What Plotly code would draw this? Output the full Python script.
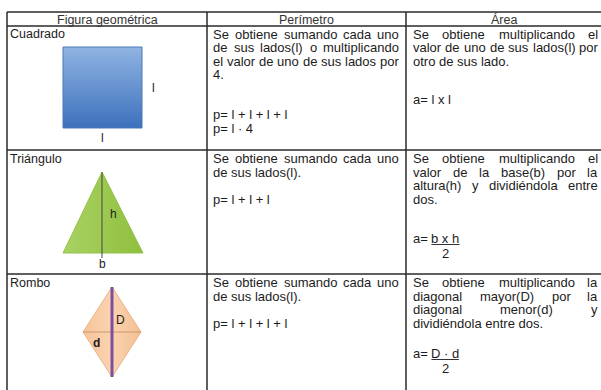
import plotly.graph_objects as go

# ---------------- data ----------------
headers = ["Figura geométrica", "Perímetro", "Área"]
figures = ["Cuadrado", "Triángulo", "Rombo"]
perimeter_text = [
    ["Se obtiene sumando cada uno", "de sus lados(l) o multiplicando",
     "el valor de uno de sus lados por", "4."],
    ["Se obtiene sumando cada uno", "de sus lados(l)."],
    ["Se obtiene sumando cada uno", "de sus lados(l)."],
]
perimeter_formulas = [["p= l + l + l + l", "p= l · 4"], ["p= l + l + l"], ["p= l + l + l + l"]]
area_text = [
    ["Se obtiene multiplicando el", "valor de uno de sus lados(l) por", "otro de sus lado."],
    ["Se obtiene multiplicando el", "valor de la base(b) por la",
     "altura(h) y dividiéndola entre", "dos."],
    ["Se obtiene multiplicando la", "diagonal mayor(D) por la",
     "diagonal menor(d) y", "dividiéndola entre dos."],
]
area_prefix = ["a= l x l", "a= ", "a= "]
area_numerator = [None, "b x h", "D · d"]
area_denominator = [None, "2", "2"]
square_labels = ["l", "l"]
triangle_labels = ["h", "b"]
rhombus_labels = ["D", "d"]

# ---------------- layout helpers ----------------
FONT = "Liberation Sans, Arial, sans-serif"
TXT = "#1c1c1c"
AFM = {' ': 278, '(': 333, ')': 333, '.': 278, ',': 278, '=': 584, '+': 584, '·': 278,
       'a': 556, 'b': 556, 'c': 500, 'd': 556, 'e': 556, 'f': 278, 'g': 556, 'h': 556,
       'i': 222, 'j': 222, 'k': 500, 'l': 222, 'm': 833, 'n': 556, 'o': 556, 'p': 556,
       'q': 556, 'r': 333, 's': 500, 't': 278, 'u': 556, 'v': 500, 'w': 722, 'x': 500,
       'y': 500, 'z': 500, 'é': 556, 'á': 556, 'A': 667, 'D': 722, 'S': 667, 'C': 722,
       'F': 611, 'R': 722, 'T': 611, 'Á': 667}


def tw(s, size):
    return sum(AFM.get(c, 556) for c in s) * size / 1000.0


anns = []
shapes = []


def txt(x, y, s, size=13, anchor="left", color=TXT):
    anns.append(dict(x=x, y=y, xref="x", yref="y", text=s, showarrow=False,
                     xanchor=anchor, yanchor="middle", borderpad=0, borderwidth=0,
                     font=dict(family=FONT, size=size, color=color)))


def para(lines, left, right, y0, dy, size=13):
    for i, line in enumerate(lines):
        y = y0 + i * dy
        words = line.split(" ")
        if i < len(lines) - 1 and len(words) > 1:
            ws = [tw(w, size) for w in words]
            gap = (right - left - sum(ws)) / (len(words) - 1)
            x = left
            for j, (w, wd) in enumerate(zip(words, ws)):
                if j == len(words) - 1:
                    txt(right, y, w, size, anchor="right")
                else:
                    txt(x, y, w, size)
                x += wd + gap
        else:
            txt(left, y, line, size)


def hline(x0, x1, y, color="#2a2a2a", width=1.5):
    shapes.append(dict(type="line", xref="x", yref="y", x0=x0, x1=x1, y0=y, y1=y,
                       line=dict(color=color, width=width)))


def vline(x, y0, y1, color="#2a2a2a", width=1.5):
    shapes.append(dict(type="line", xref="x", yref="y", x0=x, x1=x, y0=y0, y1=y1,
                       line=dict(color=color, width=width)))


# table geometry
col_x = [7, 207, 406, 602]
row_y = [12, 26, 150, 274, 392]

for y in row_y[:-1]:
    hline(col_x[0], col_x[-1], y)
for x in col_x:
    vline(x, row_y[0], row_y[-1])

# headers
for i, h in enumerate(headers):
    txt((col_x[i] + col_x[i + 1]) / 2, 19.5, h, 12.5, anchor="center", color="#333")

row_first = [34, 158.5, 282.5]
DY = 13.6
for r in range(3):
    txt(10, row_first[r], figures[r], 12.5)
    para(perimeter_text[r], 213, 399, row_first[r], DY)
    para(area_text[r], 413, 598, row_first[r], DY)

# perimeter formulas
txt(213, 114, perimeter_formulas[0][0])
txt(213, 128, perimeter_formulas[0][1])
txt(213, 199, perimeter_formulas[1][0])
txt(213, 323, perimeter_formulas[2][0])

# area formulas
txt(413, 99, area_prefix[0])
for r, (yn, yd) in [(1, (238, 253)), (2, (353, 368))]:
    txt(413, yn, area_prefix[r])
    x0 = 413 + tw(area_prefix[r], 13)
    wnum = tw(area_numerator[r], 13)
    txt(x0, yn, area_numerator[r])
    hline(x0, x0 + wnum, yn + 6.5, color="#333", width=1)
    txt(x0 + wnum / 2, yd, area_denominator[r], anchor="center")

fig = go.Figure()

# square
fig.add_trace(go.Scatter(
    x=[63, 142, 142, 63, 63], y=[47, 47, 128, 128, 47], mode="lines", fill="toself",
    line=dict(color="#4a78b8", width=1),
    fillgradient=dict(type="vertical", colorscale=[[0, "#90b4e2"], [1, "#3d71bd"]],
                      start=47, stop=128),
    hoverinfo="skip", showlegend=False))
txt(152, 88, square_labels[0], 12)
txt(102, 138, square_labels[1], 12, anchor="center")

# triangle
fig.add_trace(go.Scatter(
    x=[102, 143, 63, 102], y=[172, 253, 253, 172], mode="lines", fill="toself",
    line=dict(color="#93c24a", width=1),
    fillgradient=dict(type="horizontal", colorscale=[[0, "#a9d263"], [1, "#8fbf3e"]],
                      start=63, stop=143),
    hoverinfo="skip", showlegend=False))
vline(102, 172, 258, color="#444", width=1)
txt(110, 214, triangle_labels[0], 12)
txt(102, 264, triangle_labels[1], 12, anchor="center")

# rhombus
fig.add_trace(go.Scatter(
    x=[112, 141, 112, 83, 112], y=[287, 332, 377, 332, 287], mode="lines", fill="toself",
    line=dict(color="#eab487", width=1),
    fillgradient=dict(type="horizontal", colorscale=[[0, "#f6c49a"], [0.5, "#fbd3b0"], [1, "#f3bf92"]],
                      start=83, stop=141),
    hoverinfo="skip", showlegend=False))
hline(83, 141, 332, color="#c89a70", width=1)
vline(112, 287, 377, color="#7d4f9e", width=3)
txt(116, 320, rhombus_labels[0], 12)
txt(93, 343, "<b>" + rhombus_labels[1] + "</b>", 12)

fig.update_layout(
    width=601, height=390, margin=dict(l=0, r=0, t=0, b=0),
    paper_bgcolor="white", plot_bgcolor="white",
    xaxis=dict(range=[0, 601], visible=False, fixedrange=True),
    yaxis=dict(range=[390, 0], visible=False, fixedrange=True),
    shapes=shapes, annotations=anns, showlegend=False,
)
fig.write_html("out.html", config={"displayModeBar": False, "staticPlot": True},
               post_script="document.body.style.margin='0px';"
               "document.body.style.overflow='hidden';")
